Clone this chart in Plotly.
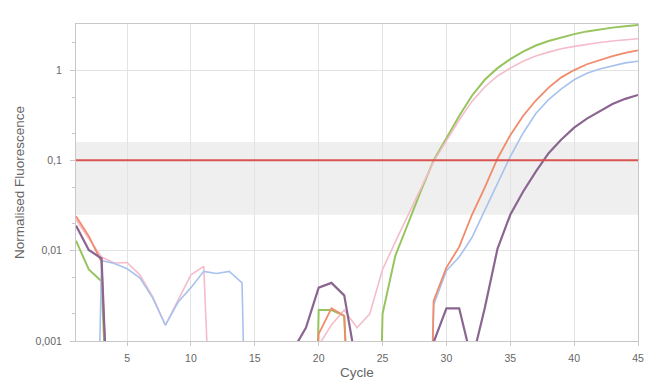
import plotly.graph_objects as go

# below-axis (off-scale) readings
B = 1e-9

cycles = list(range(1, 46))

green = [0.0129, 0.0062, 0.0046, B, B, B, B, B, B, B,
         B, B, B, B, B, B, B, B, B, 0.0022,
         0.0022, 0.0019, B, B, 0.0020, 0.0088, 0.020, 0.046, 0.10, 0.175,
         0.31, 0.52, 0.78, 1.05, 1.32, 1.6, 1.87, 2.1, 2.3, 2.5,
         2.68, 2.83, 2.95, 3.05, 3.15]

pink = [0.022, 0.0135, 0.0085, 0.0073, 0.0074, 0.0054, 0.0031, 0.0015, 0.0028, 0.0054,
        0.0067, B, B, B, B, B, B, B, B, 0.0009,
        0.0015, 0.0022, 0.0014, 0.0020, 0.0062, 0.0125, 0.025, 0.05, 0.097, 0.165,
        0.28, 0.45, 0.65, 0.86, 1.05, 1.25, 1.43, 1.58, 1.72, 1.83,
        1.93, 2.02, 2.1, 2.16, 2.22]

red = [0.024, 0.0145, 0.0075, B, B, B, B, B, B, B,
       B, B, B, B, B, B, B, B, B, 0.0012,
       0.0023, 0.0019, B, B, B, B, B, B, 0.0028, 0.0065,
       0.011, 0.025, 0.05, 0.105, 0.19, 0.31, 0.46, 0.64, 0.83, 1.0,
       1.16, 1.3, 1.43, 1.55, 1.65]

blue = [B, B, 0.0078, 0.0072, 0.0063, 0.0050, 0.0030, 0.0015, 0.0027, 0.0039,
        0.0059, 0.0056, 0.0059, 0.0044, B, B, B, B, B, B,
        B, B, B, B, B, B, B, B, 0.0025, 0.0060,
        0.0085, 0.014, 0.028, 0.055, 0.11, 0.2, 0.33, 0.47, 0.62, 0.78,
        0.92, 1.03, 1.12, 1.2, 1.25]

purple = [0.019, 0.0102, 0.0082, B, B, B, B, B, B, B,
          B, B, B, B, B, B, B, 0.0008, 0.0014, 0.0039,
          0.0044, 0.0032, 0.0005, B, B, B, B, B, 0.00097, 0.0023,
          0.0023, 0.0006, 0.0023, 0.0105, 0.025, 0.045, 0.075, 0.12, 0.17, 0.23,
          0.29, 0.35, 0.42, 0.48, 0.53]

threshold = 0.1
band_low, band_high = 0.025, 0.16

series = [
    ("green", green, "#97c45e", 2),
    ("pink", pink, "#f5bccb", 1.6),
    ("blue", blue, "#a7c2ee", 1.6),
    ("red", red, "#f08b6c", 1.8),
    ("purple", purple, "#8a6590", 2.2),
]

yticks = [0.001, 0.01, 0.1, 1]
yticktext = ["0,001", "0,01", "0,1", "1"]
xticks = [5, 10, 15, 20, 25, 30, 35, 40, 45]

fig = go.Figure()
for name, vals, col, w in series:
    fig.add_trace(go.Scatter(x=cycles, y=vals, mode="lines", name=name,
                             line=dict(color=col, width=w), showlegend=False))

fig.add_trace(go.Scatter(x=[cycles[0], cycles[-1]], y=[threshold, threshold],
                         mode="lines", line=dict(color="#d9534f", width=2),
                         showlegend=False))

fig.add_shape(type="rect", xref="paper", x0=0, x1=1, yref="y",
              y0=band_low, y1=band_high, fillcolor="#efefef",
              line=dict(width=0), layer="below")

font = dict(family="Liberation Sans, Arial, sans-serif", size=10.5, color="#666")

fig.update_layout(
    width=666, height=380,
    margin=dict(l=68, r=36, t=16, b=47, autoexpand=False),
    paper_bgcolor="white", plot_bgcolor="white",
    font=font,
    xaxis=dict(range=[1, 45], tickvals=xticks, showgrid=True, automargin=False,
               gridcolor="#e3e3e3", gridwidth=1, zeroline=False,
               showline=True, linecolor="#c8c8c8", linewidth=1, mirror=True,
               ticks="outside", ticklen=4, tickcolor="#c8c8c8", ticklabelstandoff=3,
               title=dict(text="Cycle", font=dict(size=13.5, color="#666"), standoff=4)),
    yaxis=dict(type="log", range=[-3, 0.51], tickvals=yticks, ticktext=yticktext,
               automargin=False,
               showgrid=True, gridcolor="#e3e3e3", gridwidth=1, zeroline=False,
               showline=True, linecolor="#c8c8c8", linewidth=1, mirror=True,
               ticks="outside", ticklen=5, tickcolor="#c8c8c8", ticklabelstandoff=6,
               minor=dict(ticks="outside", ticklen=3, tickcolor="#c8c8c8",
                          dtick="D2", showgrid=False),
               title=dict(text="Normalised Fluorescence", font=dict(size=13.5, color="#666"),
                          standoff=7)),
)

fig.write_html("out.html")
